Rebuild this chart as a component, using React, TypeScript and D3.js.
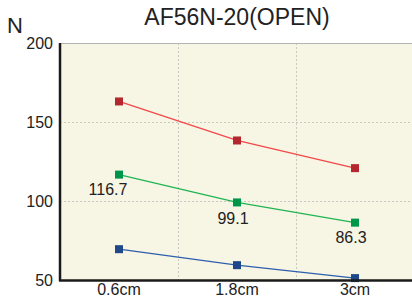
import React, { useEffect, useRef } from "react";
import * as d3 from "d3";

const categories = ["0.6cm", "1.8cm", "3cm"];
const redValues = [163, 138.3, 120.8];
const greenValues = [116.7, 99.1, 86.3];
const blueValues = [69.5, 59.4, 51.2];
const yTicks = [50, 100, 150, 200];
const labelledSeries = greenValues;

const series = [
  { name: "red", values: redValues, line: "#f24848", marker: "#b3282f" },
  { name: "green", values: greenValues, line: "#1fb552", marker: "#00964a" },
  { name: "blue", values: blueValues, line: "#2c5fae", marker: "#1f4888" },
];

const App: React.FC = () => {
  const svgRef = useRef<SVGSVGElement>(null);

  useEffect(() => {
    if (!svgRef.current) return;
    const width = 412;
    const height = 301;
    const svg = d3.select(svgRef.current);
    svg.selectAll("*").remove();

    const margin = { top: 43, right: -2, bottom: 20, left: 60 };
    const innerWidth = width - margin.left - margin.right;
    const innerHeight = height - margin.top - margin.bottom - 1;
    const font = "'Liberation Sans', Arial, sans-serif";

    const x = d3.scaleBand().domain(categories).range([0, innerWidth]);
    const y = d3.scaleLinear().domain([50, 200]).range([innerHeight, 0]);

    const g = svg.append("g")
      .attr("transform", `translate(${margin.left}, ${margin.top})`);

    // plot background
    g.append("rect")
      .attr("x", 0)
      .attr("y", 0)
      .attr("width", innerWidth)
      .attr("height", innerHeight)
      .attr("fill", "#f7f5e4");

    // grid
    g.selectAll(".hgrid")
      .data(yTicks.filter(t => t > 50 && t < 200))
      .join("line")
      .attr("x1", 0)
      .attr("x2", innerWidth)
      .attr("y1", d => y(d) + 0.5)
      .attr("y2", d => y(d) + 0.5)
      .attr("stroke", "#c8c8c0")
      .attr("stroke-dasharray", "2,2");

    g.selectAll(".vgrid")
      .data(categories.slice(1))
      .join("line")
      .attr("x1", d => Math.round(x(d)!) + 0.5)
      .attr("x2", d => Math.round(x(d)!) + 0.5)
      .attr("y1", 0)
      .attr("y2", innerHeight)
      .attr("stroke", "#c8c8c0")
      .attr("stroke-dasharray", "2,2");

    // top border
    g.append("line")
      .attr("x1", 0)
      .attr("x2", innerWidth)
      .attr("y1", 0.5)
      .attr("y2", 0.5)
      .attr("stroke", "#b4b4b4");

    const cx = (c: string) => x(c)! + x.bandwidth() / 2;

    // lines and markers
    series.forEach(s => {
      const line = d3.line<number>()
        .x((_, i) => cx(categories[i]))
        .y(d => y(d));
      g.append("path")
        .datum(s.values)
        .attr("fill", "none")
        .attr("stroke", s.line)
        .attr("stroke-width", 1.3)
        .attr("d", line);
      g.selectAll(`.m-${s.name}`)
        .data(s.values)
        .join("rect")
        .attr("x", (_, i) => cx(categories[i]) - 4)
        .attr("y", d => y(d) - 4)
        .attr("width", 8)
        .attr("height", 8)
        .attr("fill", s.marker);
    });

    // value labels
    const labelDx = [-11, -4, -4];
    const labelDy = [20, 22, 20];
    g.selectAll(".vlabel")
      .data(labelledSeries)
      .join("text")
      .attr("x", (_, i) => cx(categories[i]) + labelDx[i])
      .attr("y", (d, i) => y(d) + labelDy[i])
      .attr("text-anchor", "middle")
      .attr("font-family", font)
      .attr("font-size", 16)
      .attr("fill", "#222")
      .text(d => d.toFixed(1));

    // axes
    g.append("line")
      .attr("x1", 0)
      .attr("x2", 0)
      .attr("y1", 0)
      .attr("y2", innerHeight + 1)
      .attr("stroke", "#1a1a1a")
      .attr("stroke-width", 2.5);
    g.append("line")
      .attr("x1", -1)
      .attr("x2", innerWidth)
      .attr("y1", innerHeight + 0.5)
      .attr("y2", innerHeight + 0.5)
      .attr("stroke", "#1a1a1a")
      .attr("stroke-width", 2.5);

    g.selectAll(".ytick")
      .data(yTicks)
      .join("text")
      .attr("x", -7)
      .attr("y", d => y(d))
      .attr("dy", "0.35em")
      .attr("text-anchor", "end")
      .attr("font-family", font)
      .attr("font-size", 16)
      .attr("fill", "#222")
      .text(d => d);

    g.selectAll(".xtick")
      .data(categories)
      .join("text")
      .attr("x", d => cx(d))
      .attr("y", innerHeight + 15)
      .attr("text-anchor", "middle")
      .attr("font-family", font)
      .attr("font-size", 16)
      .attr("fill", "#222")
      .text(d => d);

    // title and unit
    svg.append("text")
      .attr("x", 237)
      .attr("y", 25)
      .attr("text-anchor", "middle")
      .attr("font-family", font)
      .attr("font-size", 23)
      .attr("fill", "#222")
      .text("AF56N-20(OPEN)");

    svg.append("text")
      .attr("x", 7)
      .attr("y", 33)
      .attr("font-family", font)
      .attr("font-size", 22)
      .attr("fill", "#222")
      .text("N");
  }, []);

  return (
    <div style={{ position: "absolute", left: 0, top: 0 }}>
      <svg ref={svgRef} width={412} height={301} style={{ display: "block", background: "#fff" }}></svg>
    </div>
  );
};

export default App;
